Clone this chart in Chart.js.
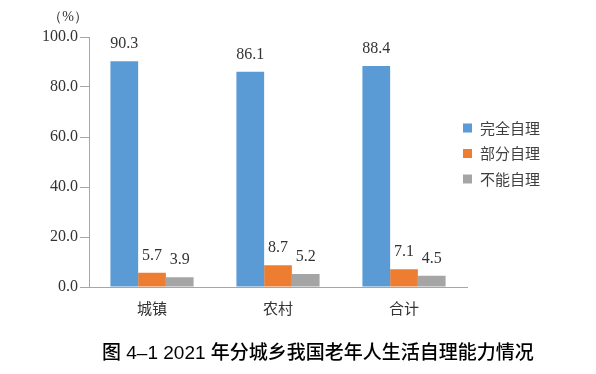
<!DOCTYPE html>
<html>
<head>
<meta charset="utf-8">
<script src="https://cdn.jsdelivr.net/npm/chart.js@4"></script>
<style>
  html, body { margin: 0; padding: 0; background: #fff; }
  #wrap { position: relative; width: 596px; height: 374px; }
  #caption {
    position: absolute; left: 102px; top: 340px;
    font-family: "Liberation Sans", "Noto Sans CJK SC", sans-serif;
    font-size: 19px; line-height: 26px; font-weight: 500; color: #000; white-space: nowrap;
  }
</style>
</head>
<body>
<div id="wrap">
  <canvas id="graph" width="596" height="374"></canvas>
  <div id="caption">图 4–1 2021 年分城乡我国老年人生活自理能力情况</div>
</div>
<script>
// Data
const categories = ['城镇', '农村', '合计'];
const fullSelfCare = [90.3, 86.1, 88.4];
const partSelfCare = [5.7, 8.7, 7.1];
const noSelfCare = [3.9, 5.2, 4.5];
const seriesNames = ['完全自理', '部分自理', '不能自理'];
const yTicks = [0, 20, 40, 60, 80, 100];

const colors = ['#5B9BD5', '#ED7D31', '#A5A5A5'];
const axisGray = '#A6A6A6';
const serif = '"Liberation Serif", "DejaVu Serif", serif';
const cjk = '"Noto Sans CJK SC", sans-serif';

// value labels above each bar
const valueLabels = {
  id: 'valueLabels',
  afterDatasetsDraw(chart) {
    const ctx = chart.ctx;
    ctx.save();
    ctx.font = '16px ' + serif;
    ctx.fillStyle = '#333';
    ctx.textAlign = 'center';
    ctx.textBaseline = 'middle';
    chart.data.datasets.forEach((ds, i) => {
      chart.getDatasetMeta(i).data.forEach((bar, j) => {
        ctx.fillText(ds.data[j].toFixed(1), bar.x, bar.y - 17);
      });
    });
    ctx.restore();
  },
};

// unit label and legend
const extras = {
  id: 'extras',
  afterDraw(chart) {
    const ctx = chart.ctx;
    const area = chart.chartArea;
    ctx.save();
    ctx.font = '14px ' + serif;
    ctx.fillStyle = '#333';
    ctx.textAlign = 'center';
    ctx.textBaseline = 'middle';
    ctx.fillText('（%）', area.left - 21, area.top - 20);

    ctx.font = '15px ' + cjk;
    ctx.textAlign = 'left';
    chart.data.datasets.forEach((ds, i) => {
      const y = 128 + i * 25.5;
      ctx.fillStyle = ds.backgroundColor;
      ctx.fillRect(area.right - 4, y - 4.5, 9, 9);
      ctx.fillStyle = '#404040';
      ctx.fillText(ds.label, area.right + 13, y);
    });
    ctx.restore();
  },
};

const ctx = document.getElementById('graph').getContext('2d');
const chart = new Chart(ctx, {
  type: 'bar',
  data: {
    labels: categories,
    datasets: [
      { label: seriesNames[0], data: fullSelfCare, backgroundColor: colors[0] },
      { label: seriesNames[1], data: partSelfCare, backgroundColor: colors[1] },
      { label: seriesNames[2], data: noSelfCare, backgroundColor: colors[2] },
    ],
  },
  options: {
    responsive: false,
    animation: false,
    layout: { padding: { top: 37, right: 129, bottom: 47, left: 0 } },
    datasets: { bar: { categoryPercentage: 0.66, barPercentage: 1.0 } },
    plugins: {
      legend: { display: false },
      tooltip: { enabled: false },
    },
    scales: {
      x: {
        afterFit: (s) => { s.height = 40; },
        grid: { drawOnChartArea: false, drawTicks: false, color: axisGray },
        border: { display: true, color: axisGray, width: 1 },
        ticks: { font: { family: cjk, size: 15 }, color: '#333', padding: 12 },
      },
      y: {
        min: 0,
        max: 100,
        afterFit: (s) => { s.width = 89; },
        afterBuildTicks: (s) => { s.ticks = yTicks.map((v) => ({ value: v })); },
        grid: { drawOnChartArea: false, tickLength: 9, color: axisGray },
        border: { display: true, color: axisGray, width: 1 },
        ticks: {
          font: { family: serif, size: 16 },
          color: '#333',
          padding: 2,
          callback: (v) => v.toFixed(1),
        },
      },
    },
  },
  plugins: [valueLabels, extras],
});
</script>
</body>
</html>
